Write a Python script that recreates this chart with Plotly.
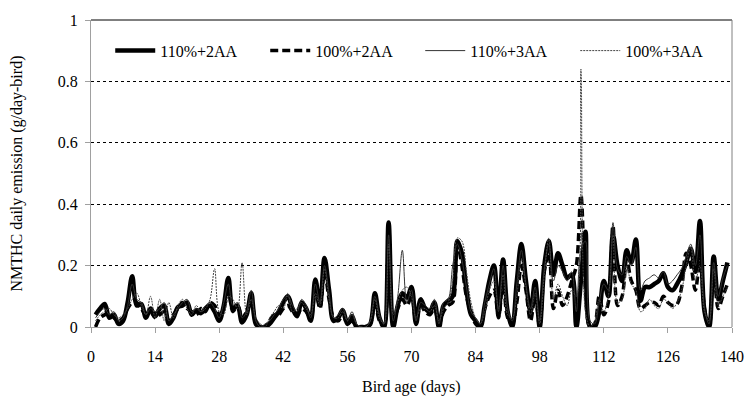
import plotly.graph_objects as go

days = list(range(1, 140))

s_110_2AA = [
    0.04, 0.06, 0.075, 0.03, 0.04, 0.01, 0.02, 0.08, 0.165, 0.07,
    0.075, 0.03, 0.06, 0.035, 0.06, 0.07, 0.01, 0.03, 0.065, 0.07,
    0.08, 0.04, 0.055, 0.045, 0.06, 0.07, 0.05, 0.02, 0.07, 0.16,
    0.06, 0.07, 0.015, 0.04, 0.11, 0.01, 0.0, 0.0, 0.01, 0.03,
    0.05, 0.08, 0.1, 0.06, 0.035, 0.08, 0.06, 0.02, 0.155, 0.07,
    0.225, 0.12, 0.02, 0.03, 0.055, 0.01, 0.035, 0.0, 0.0, 0.0,
    0.01, 0.11, 0.03, 0.0, 0.34, 0.0, 0.07, 0.11, 0.095, 0.13,
    0.01, 0.09, 0.06, 0.05, 0.08, 0.0, 0.07, 0.085, 0.1, 0.28,
    0.24, 0.12, 0.04, 0.02, 0.0, 0.07, 0.15, 0.2, 0.04, 0.22,
    0.05, 0.0, 0.15, 0.27, 0.15, 0.05, 0.15, 0.0, 0.2, 0.28,
    0.17, 0.24, 0.2, 0.16, 0.17, 0.0, 0.15, 0.31, 0.0, 0.0,
    0.05, 0.15, 0.1, 0.3, 0.2, 0.15, 0.25, 0.21, 0.285, 0.085,
    0.13, 0.13, 0.14, 0.15, 0.175, 0.13, 0.12, 0.14, 0.17, 0.21,
    0.255, 0.18, 0.345, 0.05, 0.0, 0.23, 0.09, 0.15, 0.21,
]

s_100_2AA = [
    0.0, 0.03, 0.04, 0.05, 0.03, 0.02, 0.03, 0.06, 0.08, 0.08,
    0.06, 0.04, 0.05, 0.03, 0.04, 0.05, 0.02, 0.04, 0.06, 0.08,
    0.06, 0.05, 0.04, 0.06, 0.05, 0.08, 0.07, 0.04, 0.06, 0.12,
    0.05, 0.07, 0.03, 0.05, 0.08, 0.02, 0.0, 0.0, 0.02, 0.04,
    0.04, 0.06, 0.07, 0.05, 0.04, 0.06, 0.05, 0.03, 0.12, 0.06,
    0.18, 0.09, 0.03, 0.02, 0.04, 0.01, 0.02, 0.0, 0.0, 0.0,
    0.01, 0.08, 0.02, 0.0, 0.28, 0.02, 0.06, 0.09, 0.07, 0.1,
    0.02, 0.07, 0.05, 0.04, 0.06, 0.01, 0.05, 0.07, 0.08, 0.27,
    0.2, 0.1, 0.05, 0.01, 0.0, 0.06, 0.1, 0.12, 0.03, 0.15,
    0.03, 0.01, 0.08, 0.2, 0.12, 0.02, 0.1, 0.0, 0.18, 0.24,
    0.06, 0.12, 0.07, 0.1, 0.15, 0.2, 0.43, 0.12, 0.0, 0.01,
    0.1, 0.04, 0.08, 0.33, 0.07, 0.1, 0.22, 0.15, 0.12, 0.06,
    0.07, 0.08, 0.08, 0.07, 0.1, 0.08, 0.07, 0.075, 0.13, 0.24,
    0.2, 0.12, 0.22, 0.06, 0.0, 0.2, 0.06, 0.1, 0.14,
]

s_110_3AA = [
    0.03, 0.05, 0.06, 0.04, 0.05, 0.02, 0.03, 0.07, 0.14, 0.09,
    0.08, 0.04, 0.06, 0.05, 0.06, 0.08, 0.02, 0.04, 0.06, 0.08,
    0.09, 0.05, 0.06, 0.05, 0.07, 0.08, 0.06, 0.03, 0.08, 0.14,
    0.07, 0.08, 0.03, 0.05, 0.12, 0.02, 0.0, 0.01, 0.02, 0.04,
    0.06, 0.09, 0.1, 0.07, 0.05, 0.09, 0.07, 0.03, 0.14, 0.08,
    0.2, 0.11, 0.03, 0.04, 0.06, 0.02, 0.05, 0.01, 0.0, 0.0,
    0.02, 0.1, 0.04, 0.01, 0.3, 0.02, 0.1, 0.25, 0.08, 0.12,
    0.02, 0.08, 0.07, 0.06, 0.09, 0.01, 0.08, 0.09, 0.2, 0.27,
    0.22, 0.13, 0.05, 0.03, 0.01, 0.08, 0.14, 0.19, 0.05, 0.2,
    0.06, 0.02, 0.14, 0.25, 0.14, 0.06, 0.13, 0.02, 0.19, 0.27,
    0.15, 0.2, 0.18, 0.15, 0.18, 0.05, 0.25, 0.28, 0.02, 0.01,
    0.08, 0.14, 0.12, 0.34, 0.19, 0.17, 0.23, 0.2, 0.26, 0.12,
    0.15, 0.16, 0.17, 0.16, 0.18, 0.14, 0.15, 0.17, 0.19, 0.23,
    0.27, 0.2, 0.3, 0.06, 0.01, 0.21, 0.1, 0.16, 0.2,
]

s_100_3AA = [
    0.02, 0.04, 0.05, 0.06, 0.04, 0.03, 0.04, 0.06, 0.09, 0.11,
    0.07, 0.04, 0.1, 0.03, 0.09, 0.02, 0.08, 0.03, 0.07, 0.09,
    0.06, 0.04, 0.07, 0.05, 0.06, 0.09, 0.19, 0.05, 0.04, 0.1,
    0.09, 0.06, 0.21, 0.04, 0.09, 0.03, 0.01, 0.0, 0.03, 0.05,
    0.07, 0.06, 0.11, 0.05, 0.06, 0.08, 0.06, 0.04, 0.11, 0.07,
    0.19, 0.09, 0.03, 0.03, 0.05, 0.02, 0.04, 0.01, 0.0, 0.0,
    0.02, 0.09, 0.03, 0.01, 0.27, 0.04, 0.08, 0.12, 0.13, 0.1,
    0.03, 0.06, 0.06, 0.05, 0.07, 0.02, 0.06, 0.08, 0.15, 0.29,
    0.28, 0.18, 0.08, 0.03, 0.01, 0.05, 0.12, 0.15, 0.06, 0.17,
    0.04, 0.03, 0.1, 0.22, 0.13, 0.04, 0.11, 0.01, 0.17, 0.29,
    0.09, 0.14, 0.1, 0.07, 0.12, 0.1, 0.84, 0.05, 0.0, 0.02,
    0.09, 0.05, 0.1, 0.3, 0.08, 0.09, 0.2, 0.14, 0.12, 0.05,
    0.06, 0.09, 0.07, 0.06, 0.09, 0.08, 0.06, 0.08, 0.12, 0.2,
    0.26, 0.15, 0.2, 0.05, 0.02, 0.19, 0.07, 0.1, 0.13,
]

series_names = ["110%+2AA", "100%+2AA", "110%+3AA", "100%+3AA"]
x_ticks = [0, 14, 28, 42, 56, 70, 84, 98, 112, 126, 140]
y_ticks = [0, 0.2, 0.4, 0.6, 0.8, 1]
y_tick_labels = ["0", "0.2", "0.4", "0.6", "0.8", "1"]

FONT = "Liberation Serif, Times New Roman, serif"

styles = [
    dict(color="black", width=4.5, dash="solid"),
    dict(color="black", width=3.5, dash="8px,4px"),
    dict(color="#333333", width=1, dash="solid"),
    dict(color="#444444", width=1, dash="2px,1px"),
]

fig = go.Figure()
for name, vals, st in zip(series_names, [s_110_2AA, s_100_2AA, s_110_3AA, s_100_3AA], styles):
    n = min(len(days), len(vals))
    fig.add_trace(go.Scatter(
        x=days[:n], y=vals[:n], name=name, mode="lines",
        line=dict(color=st["color"], width=st["width"], dash=st["dash"],
                  shape="spline", smoothing=1.0),
    ))

fig.update_layout(
    width=756, height=402,
    margin=dict(l=91, r=13, t=12, b=75),
    paper_bgcolor="white", plot_bgcolor="white",
    font=dict(family=FONT, size=16, color="black"),
    showlegend=True,
    legend=dict(
        orientation="h", x=0.03, y=0.90, xanchor="left", yanchor="middle",
        bgcolor="rgba(0,0,0,0)", font=dict(family=FONT, size=16, color="black"),
        entrywidth=100, entrywidthmode="pixels", itemwidth=40,
    ),
    xaxis=dict(
        range=[0, 140], tickmode="array", tickvals=x_ticks,
        ticktext=[str(t) for t in x_ticks],
        showgrid=False, zeroline=False, showline=True, linecolor="#a0a0a0",
        linewidth=1, ticks="outside", ticklen=5, tickcolor="#a0a0a0",
        ticklabelstandoff=10, tickfont=dict(family=FONT, size=16),
    ),
    yaxis=dict(
        range=[0, 1], tickmode="array", tickvals=y_ticks, ticktext=y_tick_labels,
        showgrid=True, gridcolor="black", griddash="dot", gridwidth=1,
        zeroline=False, showline=True, linecolor="#a0a0a0", linewidth=1,
        ticks="outside", ticklen=5, tickcolor="#a0a0a0",
        ticklabelstandoff=4, tickfont=dict(family=FONT, size=16),
    ),
    annotations=[
        dict(text="Bird age (days)", xref="paper", yref="paper", x=0.5, y=-0.195,
             xanchor="center", yanchor="middle", showarrow=False,
             font=dict(family=FONT, size=16)),
        dict(text="NMTHC daily emission (g/day-bird)", xref="paper", yref="paper",
             x=-0.117, y=0.5, xanchor="center", yanchor="middle", textangle=-90,
             showarrow=False, font=dict(family=FONT, size=16)),
    ],
    shapes=[
        dict(type="line", xref="paper", yref="paper", x0=0, x1=1, y0=1, y1=1,
             line=dict(color="black", width=1)),
        dict(type="line", xref="paper", yref="paper", x0=1, x1=1, y0=0, y1=1,
             line=dict(color="#808080", width=1)),
    ],
)

fig.write_html("out.html")
